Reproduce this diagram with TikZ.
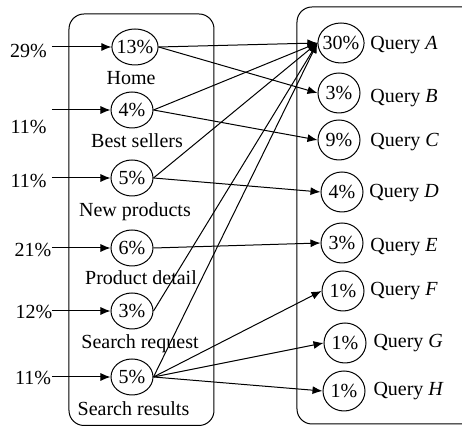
\documentclass[tikz,border=0pt]{standalone}
\usepackage{fontspec}
\setmainfont{Liberation Serif}
\usetikzlibrary{shapes.geometric,arrows.meta}

\begin{document}
\begin{tikzpicture}[x=0.5pt,y=-0.5pt,line width=0.5pt,
    every node/.style={font=\fontsize{10}{12}\selectfont},
    page/.style={draw,ellipse,inner xsep=-1pt,inner ysep=0pt,minimum width=21pt,minimum height=18pt},
    query/.style={page,minimum height=20pt},
    qlabel/.style={anchor=base west,inner sep=0pt},
    flow/.style={-{Latex[length=5pt,width=4pt]}}]

        \clip (0,0) rectangle (462,426);

        % the two groups
        \draw[rounded corners=7.5pt] (69,14) rectangle (214,425.5);
        \draw[rounded corners=7.5pt] (297,7) rectangle (500,424);

        % pages
        \node[page] (home) at (135,47) {13\%};
        \node[page] (best) at (132,110) {4\%};
        \node[page] (newp) at (132,178) {5\%};
        \node[page] (detail) at (132,248) {6\%};
        \node[page] (sreq) at (132,311) {3\%};
        \node[page] (sres) at (132,377) {5\%};

        \node (homel) at (131,78.5) {Home};
        \node (bestl) at (137,140.5) {Best sellers};
        \node (newpl) at (135,212) {New products};
        \node (detaill) at (141,278) {Product detail};
        \node (sreql) at (140,344) {Search request};
        \node (sresl) at (133.5,408.5) {Search results};

        % entry shares
        \node (in1) at (28.5,51) {29\%};
        \node (in2) at (28.5,127) {11\%};
        \node (in3) at (28.5,181) {11\%};
        \node (in4) at (33,250) {21\%};
        \node (in5) at (34,312) {12\%};
        \node (in6) at (33,378) {11\%};

        \coordinate (s1) at (52,47);
        \coordinate (s2) at (52,110);
        \coordinate (s3) at (52,178);
        \coordinate (s4) at (52,248);
        \coordinate (s5) at (52,311);
        \coordinate (s6) at (52,377);

        \draw[flow] (s1) -- (home.west);
        \draw[flow] (s2) -- (best.west);
        \draw[flow] (s3) -- (newp.west);
        \draw[flow] (s4) -- (detail.west);
        \draw[flow] (s5) -- (sreq.west);
        \draw[flow] (s6) -- (sres.west);

        % queries
        \node[query] (qa) at (341,43) {30\%};
        \node[query] (qb) at (339,93) {3\%};
        \node[query] (qc) at (339,140) {9\%};
        \node[query] (qd) at (342,192) {4\%};
        \node[query] (qe) at (342,243) {3\%};
        \node[query] (qf) at (343,291) {1\%};
        \node[query] (qg) at (345,343) {1\%};
        \node[query] (qh) at (344,391) {1\%};

        \node[qlabel] (qal) at (370,50) {Query \textit{A}};
        \node[qlabel] (qbl) at (370,103) {Query \textit{B}};
        \node[qlabel] (qcl) at (370,147) {Query \textit{C}};
        \node[qlabel] (qdl) at (369,198) {Query \textit{D}};
        \node[qlabel] (qel) at (370,252) {Query \textit{E}};
        \node[qlabel] (qfl) at (370,296) {Query \textit{F}};
        \node[qlabel] (qgl) at (373,348) {Query \textit{G}};
        \node[qlabel] (qhl) at (373,396) {Query \textit{H}};

        % page -> query
        \draw[flow] (home.east) -- (qa.west);
        \draw[flow] (home.east) -- (qb.west);
        \draw[flow] (best.east) -- (qa.west);
        \draw[flow] (best.east) -- (qc.west);
        \draw[flow] (newp.east) -- (qa.west);
        \draw[flow] (newp.east) -- (qd.west);
        \draw[flow] (detail.east) -- (qe.west);
        \draw[flow] (sreq.east) -- (qa.west);
        \draw[flow] (sres.east) -- (qa.west);
        \draw[flow] (sres.east) -- (qf.west);
        \draw[flow] (sres.east) -- (qg.west);
        \draw[flow] (sres.east) -- (qh.west);

\end{tikzpicture}
\end{document}
